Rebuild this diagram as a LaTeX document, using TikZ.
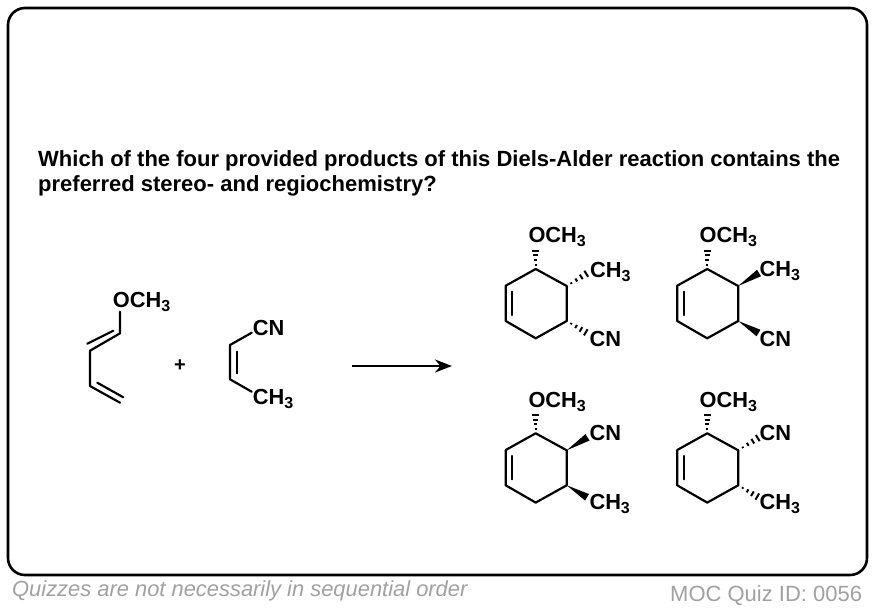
\documentclass[tikz,border=0pt]{standalone}
\usepackage{fontspec}
\setmainfont{Liberation Sans}
\usetikzlibrary{calc,arrows.meta}

\definecolor{footgray}{gray}{0.63}

\tikzset{
    bond/.style={line width=2.2pt,line cap=round,line join=round},
    atomlabel/.style={inner sep=0pt,anchor=base west,font=\fontsize{21.8}{21.8}\selectfont\bfseries},
    question/.style={inner sep=0pt,anchor=base west,font=\fontsize{22}{25}\selectfont\bfseries},
    footnote/.style={inner sep=0pt,anchor=base west,text=footgray}
}

\newcommand{\subthree}{\raisebox{-4pt}{\fontsize{16}{16}\selectfont 3}}
\newcommand{\wedgebond}[2]{\fill (#1) -- ($(#2)!3.8pt!90:(#1)$) -- ($(#2)!3.8pt!-90:(#1)$) -- cycle;}
\newcommand{\hashbond}[2]{
    \foreach \hashpos in {0.22,0.46,0.70,0.94}
        \draw[line width=2pt] ($(#1)!\hashpos!(#2)!\hashpos*3.8pt!90:(#2)$) -- ($(#1)!\hashpos!(#2)!\hashpos*3.8pt!-90:(#2)$);
}

\begin{document}
\begin{tikzpicture}[x=1pt,y=-1pt]
    \useasboundingbox (0,0) rectangle (874,608);
    \fill[white] (0,0) rectangle (874,608);
    \draw[line width=2.6pt,rounded corners=17pt] (8,8) rectangle (867,575);

    \node[question] (line1) at (38,166) {Which of the four provided products of this Diels-Alder reaction contains the};
    \node[question] (line2) at (38,191) {preferred stereo- and regiochemistry?};

    % diene
    \node[atomlabel] (dieneO) at (112.7,307.3) {OCH\subthree};
    \coordinate (d1) at (120,333.3);
    \coordinate (d2) at (90,350.7);
    \coordinate (d3) at (90,386);
    \coordinate (d4) at (120,402.7);
    \coordinate (d1a) at (113.3,330.7);
    \coordinate (d2a) at (87.3,343.7);
    \coordinate (d3a) at (97.3,382.7);
    \coordinate (d4a) at (123.3,397.3);
    \draw[bond] (dieneO.south west -| d1) -- (d1) -- (d2) -- (d3) -- (d4);
    \draw[bond] (d1a) -- (d2a);
    \draw[bond] (d3a) -- (d4a);

    \node[inner sep=0pt,font=\fontsize{20}{20}\selectfont\bfseries] (plus) at (180,365.5) {+};

    % dienophile
    \node[atomlabel] (dienCN) at (252.7,335) {CN};
    \node[atomlabel] (dienCH) at (252.7,404) {CH\subthree};
    \coordinate (e1) at (230,345);
    \coordinate (e2) at (230,379.3);
    \coordinate (e1a) at (236.7,351.7);
    \coordinate (e2a) at (236.7,373.3);
    \coordinate (e3) at (251.7,332.7);
    \coordinate (e4) at (251.7,391.7);
    \draw[bond] (e3) -- (e1) -- (e2) -- (e4);
    \draw[bond] (e1a) -- (e2a);

    \coordinate (arrowstart) at (352,366);
    \coordinate (arrowend) at (452,366);
    \draw[line width=2.6pt,-{Stealth[length=17pt,width=13pt]}] (arrowstart) -- (arrowend);

    % rings
    \foreach \ringname/\ringx/\ringy in {a/0/0,b/171.5/0,c/0/164.3,d/171.5/164.3}{
        \begin{scope}[shift={(\ringx,\ringy)},name prefix=\ringname-]
            \coordinate (top) at (535.7,269);
            \coordinate (ur) at (566.7,286);
            \coordinate (lr) at (566.7,321);
            \coordinate (bot) at (535.7,338.3);
            \coordinate (ll) at (505.7,321);
            \coordinate (ul) at (505.7,285.7);
            \coordinate (in1) at (512.3,291.7);
            \coordinate (in2) at (512.3,315);
            \coordinate (oend) at (535.7,249.5);
            \coordinate (uend) at (587.5,273);
            \coordinate (lend) at (587,333);
            \draw[bond] (top) -- (ur) -- (lr) -- (bot) -- (ll) -- (ul) -- cycle;
            \draw[bond] (in1) -- (in2);
        \end{scope}
        \hashbond{\ringname-top}{\ringname-oend}
    }

    \hashbond{a-ur}{a-uend}
    \hashbond{a-lr}{a-lend}
    \wedgebond{b-ur}{b-uend}
    \wedgebond{b-lr}{b-lend}
    \wedgebond{c-ur}{c-uend}
    \wedgebond{c-lr}{c-lend}
    \hashbond{d-ur}{d-uend}
    \hashbond{d-lr}{d-lend}

    \node[atomlabel] (aO) at (528.3,242.7) {OCH\subthree};
    \node[atomlabel] (aCH) at (590,277.3) {CH\subthree};
    \node[atomlabel] (aCN) at (589.3,346) {CN};

    \node[atomlabel] (bO) at (699.5,242.7) {OCH\subthree};
    \node[atomlabel] (bCH) at (759.3,276.7) {CH\subthree};
    \node[atomlabel] (bCN) at (759.3,346) {CN};

    \node[atomlabel] (cO) at (528.3,407) {OCH\subthree};
    \node[atomlabel] (cCN) at (589.3,440) {CN};
    \node[atomlabel] (cCH) at (589.3,509) {CH\subthree};

    \node[atomlabel] (dO) at (699.5,407) {OCH\subthree};
    \node[atomlabel] (dCN) at (759.3,440) {CN};
    \node[atomlabel] (dCH) at (759.3,509) {CH\subthree};

    \node[footnote,font=\fontsize{21.9}{21.9}\selectfont\itshape] (quizzes) at (12,596) {Quizzes are not necessarily in sequential order};
    \node[footnote,font=\fontsize{22}{22}\selectfont] (quizid) at (670,601) {MOC Quiz ID: 0056};
\end{tikzpicture}
\end{document}
